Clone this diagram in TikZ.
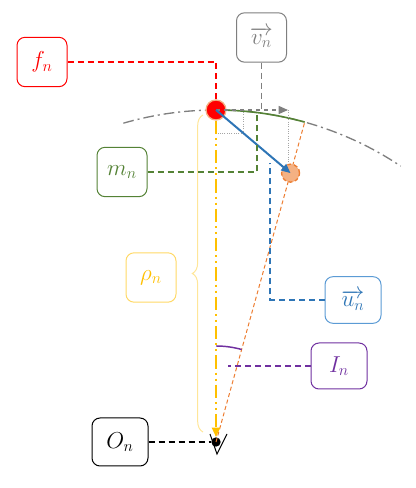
\documentclass[tikz,border=0pt]{standalone}
\usetikzlibrary{arrows.meta,calc,decorations.pathreplacing}

\definecolor{fred}{HTML}{FF0000}
\definecolor{vgray}{HTML}{7F7F7F}
\definecolor{mgreen}{HTML}{548235}
\definecolor{rgold}{HTML}{FFC000}
\definecolor{rlight}{HTML}{FFD966}
\definecolor{bracey}{HTML}{FFE699}
\definecolor{ublue}{HTML}{2E75B6}
\definecolor{ulight}{HTML}{5B9BD5}
\definecolor{ipurple}{HTML}{7030A0}
\definecolor{oorange}{HTML}{ED7D31}
\definecolor{ofill}{HTML}{F4B183}

\tikzset{
  namebox/.style={draw=#1, text=#1, fill=white, rounded corners=6pt,
    line width=0.75pt, minimum width=37.5pt, minimum height=37pt,
    inner sep=2pt, font=\fontsize{18}{21}\selectfont},
  leader/.style={draw=#1, line width=1.4pt, dash pattern=on 4.5pt off 3pt},
  tri/.style={-{Triangle[length=7pt,width=6pt]}},
}

\begin{document}
\begin{tikzpicture}[x=0.75pt, y=0.75pt]
\useasboundingbox (0,0) rectangle (415,488);

% Centre and orbit
\node[circle, fill=black, inner sep=0pt, minimum size=7pt] (O) at (216,46) {};
\draw[black, line width=0.75pt] (210,54) -- (217,34) -- (227,54);
\draw[vgray, line width=1pt, dash pattern=on 8pt off 3pt on 1.5pt off 3pt]
  ($(O)+(106.2:332)$) arc[start angle=106.2, end angle=56.2, radius=332];

% Bodies
\coordinate (arcend) at ($(O)+(74.5:332)$);
\draw[oorange, line width=0.75pt, dash pattern=on 3pt off 2pt] (O.center) -- (arcend);
\draw[mgreen, line width=1.2pt] (216,378) arc[start angle=90, end angle=74.5, radius=332];
\node[circle, fill=ofill, draw=oorange, densely dashed, line width=1pt,
  minimum size=13.5pt, inner sep=0pt] (ball2) at ($(O)+(74.5:279)$) {};
\node[circle, fill=fred, draw=oorange!60, line width=1pt,
  minimum size=15pt, inner sep=0pt] (ball) at (216,378) {};

% Speed and right angle
\coordinate (vtip) at (288,378);
\draw[vgray, line width=1pt, dashed, tri] (ball.center) -- (vtip);
\draw[vgray!70, densely dotted, line width=0.75pt] (vtip) -- (vtip |- ball2.north);
\draw[vgray!70, densely dotted, line width=0.75pt] (243,376) -- (243,354) -- (218,354);

% Displacement
\draw[ublue, line width=1.5pt, tri] (ball.center) -- (ball2.center);

% Radius
\draw[rgold, line width=1.5pt, tri,
  dash pattern=on 10pt off 3pt on 1.5pt off 3pt on 1.5pt off 3pt]
  (ball.south) -- (O.north);
\draw[bracey, line width=0.75pt, decorate, decoration={brace, amplitude=8pt}]
  (203,56) -- (203,373);
\draw[ipurple, line width=1.1pt] ($(O)+(90:96)$) arc[start angle=90, end angle=74.5, radius=96];

% Labels
\node[namebox=fred] (fn) at (42,426) {$f_n$};
\node[namebox=vgray] (vn) at (261.5,450.5) {$\overrightarrow{v_n}$};
\node[namebox=mgreen] (mn) at (122,316) {$m_n$};
\node[namebox=rlight, text=rgold] (rn) at (151,210.5) {$\rho_n$};
\node[namebox=ulight, text=ublue, minimum width=42pt, minimum height=35pt] (un) at (353,188) {$\overrightarrow{u_n}$};
\node[namebox=ipurple, minimum width=42pt, minimum height=34.5pt] (In) at (339,122) {$I_n$};
\node[namebox=black, minimum width=42pt, minimum height=36pt] (On) at (120,46) {$O_n$};

% Leaders
\coordinate (mtip) at (257,375);
\coordinate (utip) at (270,325);
\coordinate (itip) at (228,122);
\draw[leader=fred] (fn.east) -| (ball.north);
\draw[leader=vgray] (vn.south) -- (vn.south |- vtip);
\draw[leader=mgreen] (mn.east) -| (mtip);
\draw[leader=ublue] (un.west) -| (utip);
\draw[leader=ipurple] (In.west) -- (itip);
\draw[leader=black, line width=0.9pt] (On.east) -- (O.west);
\end{tikzpicture}
\end{document}
